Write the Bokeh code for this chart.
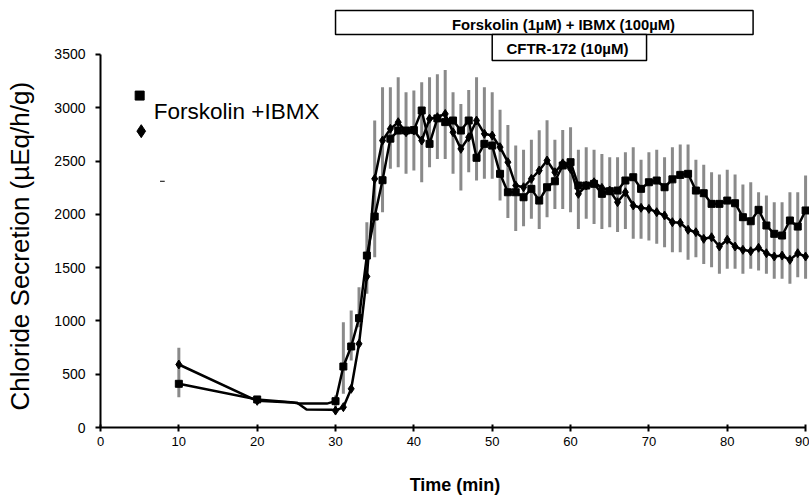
from bokeh.plotting import figure
from bokeh.models import Range1d, FixedTicker, Title
from bokeh.core.properties import value
from bokeh.embed import file_html
from bokeh.resources import INLINE

# ---------------- data ----------------
time_min = [10, 20] + list(range(30, 91))

forsk_sq = [410, 263,
            247, 572, 760, 1026, 1613, 1979, 2320, 2710, 2786, 2786,
            2790, 2974, 2661, 2900, 2865, 2880, 2786, 2880, 2530, 2661,
            2645, 2380, 2207, 2207, 2160, 2239, 2129, 2254, 2310, 2458,
            2489, 2270, 2270, 2286, 2192, 2217, 2223, 2317, 2348, 2239,
            2301, 2317, 2254, 2328, 2370, 2380, 2223, 2198, 2098, 2098,
            2129, 2104, 1973, 1935, 2042, 1895, 1817, 1801, 1942, 1885,
            2036]

forsk_di = [591, 250,
            159, 191, 363, 785, 1417, 2333, 2692, 2802, 2864, 2770,
            2786, 2692, 2896, 2911, 2942, 2770, 2614, 2723, 2880, 2755,
            2739, 2630, 2489, 2270, 2254, 2333, 2411, 2505, 2395, 2478,
            2427, 2192, 2270, 2301, 2248, 2223, 2114, 2207, 2083, 2061,
            2051, 2020, 1989, 1926, 1920, 1855, 1832, 1770, 1785, 1698,
            1761, 1698, 1667, 1654, 1686, 1635, 1604, 1613, 1573, 1635,
            1604]

err_top = [748, 290,
           300, 988, 1098, 1316, 1926, 2880, 3192, 3192, 3286, 3146,
           3161, 3239, 3286, 3314, 3355, 3146, 3036, 3167, 3286, 3192,
           3146, 2980, 2838, 2645, 2605, 2699, 2789, 2883, 2699, 2792,
           2817, 2605, 2630, 2605, 2567, 2536, 2536, 2583, 2630, 2511,
           2583, 2605, 2536, 2630, 2655, 2655, 2511, 2464, 2395, 2373,
           2417, 2373, 2280, 2301, 2207, 2176, 2114, 2114, 2207, 2207,
           2364]

err_bot = [284, 230,
           190, 316, 629, 941, 1254, 1598, 2020, 2427, 2442, 2380,
           2411, 2301, 2442, 2520, 2520, 2380, 2223, 2395, 2317, 2333,
           2333, 2129, 1965, 1843, 1887, 1958, 1862, 1973, 2050, 2051,
           2020, 1862, 1958, 1910, 1862, 1879, 1833, 1862, 1770, 1770,
           1754, 1723, 1692, 1645, 1645, 1573, 1598, 1535, 1504, 1442,
           1489, 1489, 1442, 1489, 1473, 1442, 1395, 1395, 1348, 1410,
           1395]

# unmarked line vertices between 20 and 30 min
gap_t_sq = [24.3, 25.3, 28.9]
gap_v_sq = [238, 224, 224]
gap_t_di = [25.1, 26.3, 29.5]
gap_v_di = [232, 168, 166]

x_ticks = [0, 10, 20, 30, 40, 50, 60, 70, 80, 90]
y_ticks = [0, 500, 1000, 1500, 2000, 2500, 3000, 3500]

legend_label = "Forskolin +IBMX"
box_forsk = (30, 83.3, "Forskolin (1µM) + IBMX (100µM)")
box_cftr = (50, 69.7, "CFTR-172 (10µM)")

FONT = "Liberation Sans"

# ---------------- figure ----------------
p = figure(width=809, height=500, x_range=Range1d(0, 90.5), y_range=Range1d(0, 4006),
           output_backend="svg", toolbar_location=None,
           min_border_left=100, min_border_right=0, min_border_top=0, min_border_bottom=73)
p.xgrid.visible = False
p.ygrid.visible = False
p.outline_line_color = None
p.background_fill_color = "white"
p.border_fill_color = "white"

for ax in (p.xaxis[0], p.yaxis[0]):
    ax.axis_line_width = 2
    ax.axis_line_color = "black"
    ax.major_tick_line_width = 2
    ax.major_tick_line_color = "black"
    ax.minor_tick_line_color = None
    ax.major_label_text_font = FONT
    ax.major_label_text_color = "black"
    ax.axis_label_text_font = FONT
    ax.axis_label_text_color = "black"

xa = p.xaxis[0]
xa.ticker = FixedTicker(ticks=x_ticks)
xa.bounds = (0, 90)
xa.major_tick_in = 3
xa.major_tick_out = 4
xa.major_label_text_font_size = "13px"
xa.major_label_standoff = 5
xa.axis_label = "Time (min)"
xa.axis_label_text_font_size = "18px"
xa.axis_label_text_font_style = "bold"
xa.axis_label_standoff = 26

ya = p.yaxis[0]
ya.ticker = FixedTicker(ticks=y_ticks)
ya.bounds = (0, 3500)
ya.major_tick_in = 0
ya.major_tick_out = 5
ya.major_label_text_font_size = "14px"
ya.major_label_standoff = 10

# blank spacer title, then the y-axis title (sits low, like in the original)
p.add_layout(Title(text=" ", text_font_size="13px", standoff=0), "left")
p.add_layout(Title(text="Chloride Secretion (µEq/h/g)", align="left", offset=17,
                   text_font=FONT, text_font_size="26px", text_font_style="normal",
                   text_color="black", standoff=0), "left")

# error bars
p.segment(x0=time_min, y0=err_bot, x1=time_min, y1=err_top,
          line_color="#8a8a8a", line_width=3)

# lines
def merged(t, v, gt, gv):
    pts = sorted(list(zip(t, v)) + list(zip(gt, gv)))
    return [a for a, _ in pts], [b for _, b in pts]

lt, lv = merged(time_min, forsk_sq, gap_t_sq, gap_v_sq)
p.line(lt, lv, line_color="black", line_width=2.5)
lt2, lv2 = merged(time_min, forsk_di, gap_t_di, gap_v_di)
p.line(lt2, lv2, line_color="black", line_width=2.5)

p.scatter(time_min, forsk_sq, marker="square", size=7, fill_color="black", line_color="black")
p.scatter(time_min, forsk_di, marker="diamond", size=9, fill_color="black", line_color="black")

# legend (as drawn in the original)
p.scatter([5.0], [3114], marker="square", size=9, fill_color="black", line_color="black")
p.scatter([5.2], [2780], marker="diamond", size=13, fill_color="black", line_color="black")
p.text([6.8], [2964], text=[legend_label], text_font=value(FONT), text_font_size="22.5px",
       text_baseline="middle", text_align="left", text_color="black")
p.segment(x0=[7.6], y0=[2310], x1=[8.2], y1=[2310], line_color="black", line_width=1)

# treatment boxes
for (l, r, lab, fs), (top, bot, ty, tx) in (((*box_forsk, "14.8px"), (3912, 3687, 3780, 59.1)),
                                             ((*box_cftr, "15px"), (3687, 3443, 3560, 59.6))):
    p.quad(left=[l], right=[r], top=[top], bottom=[bot], fill_color="white",
           line_color="black", line_width=1.5)
    p.text([tx], [ty], text=[lab], text_font=value(FONT), text_font_size=fs,
           text_font_style="bold", text_align="center", text_baseline="middle",
           text_color="black")

open("out.html", "w").write(file_html(p, INLINE))
